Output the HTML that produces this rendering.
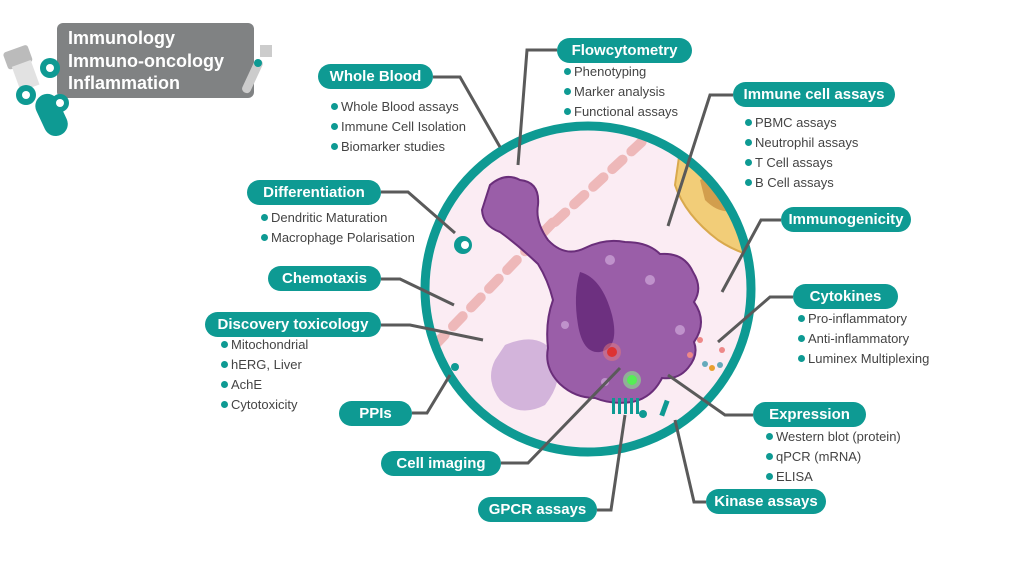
<!DOCTYPE html>
<html><head><meta charset="utf-8"><style>
html,body{margin:0;padding:0;background:#fff;}
body{width:1024px;height:584px;position:relative;overflow:hidden;font-family:"Liberation Sans",sans-serif;}
.pill{position:absolute;background:#0e9a93;color:#fff;font-weight:bold;font-size:15px;border-radius:13px;height:25px;line-height:25px;text-align:center;}
.li{position:absolute;color:#444;font-size:13px;white-space:nowrap;}
.li::before{content:"";display:inline-block;width:7px;height:7px;border-radius:50%;background:#0e9a93;margin-right:3px;vertical-align:1px;}
</style></head><body>
<svg width="1024" height="584" style="position:absolute;left:0;top:0">
<defs><clipPath id="cc"><circle cx="588" cy="289" r="160"/></clipPath></defs>
<!-- header icons -->
<g transform="rotate(-20 40 80)"><rect x="14" y="42" width="26" height="18" rx="3" fill="#bbb"/><rect x="18" y="58" width="20" height="26" fill="#e2e2e2"/></g>
<g transform="rotate(-25 55 120)"><rect x="42" y="92" width="24" height="44" rx="12" fill="#0e9a93"/></g>
<rect x="57" y="23" width="197" height="75" rx="6" fill="#808283"/>
<circle cx="50" cy="68" r="10" fill="#0e9a93"/><circle cx="50" cy="68" r="4" fill="#fff"/>
<circle cx="26" cy="95" r="10" fill="#0e9a93"/><circle cx="26" cy="95" r="4" fill="#fff"/>
<circle cx="60" cy="103" r="9" fill="#0e9a93"/><circle cx="60" cy="103" r="4" fill="#fff"/>
<g fill="#ccc"><rect x="248" y="58" width="9" height="36" rx="4" transform="rotate(25 252 76)"/><rect x="260" y="45" width="12" height="12"/></g>
<circle cx="258" cy="63" r="4" fill="#0e9a93"/>
<!-- circle -->
<circle cx="588" cy="289" r="163" fill="#fbecf3"/>
<g clip-path="url(#cc)">
<g stroke="#edb3b3" stroke-width="10" stroke-linecap="round" stroke-dasharray="14 12" opacity="0.9">
<line x1="435" y1="345" x2="560" y2="215"/>
<line x1="555" y1="222" x2="660" y2="125"/>
</g>
<path d="M680 150 Q705 130 730 165 Q770 220 770 260 Q740 255 718 240 Q685 215 675 185Z" fill="#f2cd78" stroke="#d9a94d" stroke-width="2"/>
<path d="M700 180 Q720 170 735 210 Q720 215 705 200Z" fill="#c48a3a" opacity="0.7"/>
</g>
<circle cx="588" cy="289" r="163" fill="none" stroke="#0e9a93" stroke-width="9"/>
<path d="M505 345 Q540 330 555 355 Q565 380 545 405 Q520 418 500 400 Q485 380 495 360Z" fill="#c9a6d4" opacity="0.8"/>
<!-- cell -->
<path d="M490 185 Q505 172 520 180 Q540 182 538 205 Q535 222 548 240 Q565 258 585 248 Q605 238 625 242 Q648 242 660 254 Q684 252 693 272 Q703 288 694 302 Q708 322 694 342 Q699 355 688 368 Q678 380 662 378 Q652 398 632 402 Q612 405 595 398 Q575 398 560 384 Q544 368 548 348 Q545 322 553 300 Q548 280 538 264 Q518 245 500 232 Q483 226 482 210Z" fill="#9a5ea8" stroke="#6a2e7a" stroke-width="2"/>
<path d="M580 272 Q602 278 612 315 Q620 348 600 352 Q583 354 578 325 Q573 295 580 272Z" fill="#6d3080"/>
<g fill="#c9a0d4" opacity="0.8"><circle cx="610" cy="260" r="5"/><circle cx="650" cy="280" r="5"/><circle cx="565" cy="325" r="4"/><circle cx="680" cy="330" r="5"/><circle cx="605" cy="382" r="4"/></g>
<circle cx="612" cy="352" r="9" fill="#e87a7a" opacity="0.5"/><circle cx="612" cy="352" r="5" fill="#d33"/>
<circle cx="632" cy="380" r="9" fill="#8f8" opacity="0.5"/><circle cx="632" cy="380" r="5" fill="#5e5"/>
<circle cx="463" cy="245" r="9" fill="#0e9a93"/><circle cx="465" cy="245" r="4" fill="#fff"/>
<circle cx="455" cy="367" r="4" fill="#0e9a93"/>
<g fill="#0e9a93"><rect x="612" y="398" width="3" height="16"/><rect x="618" y="398" width="3" height="16"/><rect x="624" y="398" width="3" height="16"/><rect x="630" y="398" width="3" height="16"/><rect x="636" y="398" width="3" height="16"/><circle cx="643" cy="414" r="4"/><rect x="662" y="400" width="5" height="16" transform="rotate(20 664 408)"/></g>
<g fill="#e88"><circle cx="700" cy="340" r="3"/><circle cx="722" cy="350" r="3"/><circle cx="690" cy="355" r="3"/></g>
<g fill="#6ab"><circle cx="705" cy="364" r="3"/><circle cx="720" cy="365" r="3"/></g>
<circle cx="712" cy="368" r="3" fill="#e9a030"/>
<!-- connectors -->
<g fill="none" stroke="#5a5a5a" stroke-width="3">
<polyline points="433,77 460,77 500,147"/>
<polyline points="557,50 527,50 518,165"/>
<polyline points="733,95 710,95 668,226"/>
<polyline points="381,192 408,192 455,233"/>
<polyline points="381,279 400,279 454,305"/>
<polyline points="381,325 410,325 483,340"/>
<polyline points="412,413 427,413 450,375"/>
<polyline points="501,463 528,463 620,368"/>
<polyline points="597,510 611,510 625,415"/>
<polyline points="706,502 694,502 675,420"/>
<polyline points="753,415 725,415 668,375"/>
<polyline points="793,297 770,297 718,342"/>
<polyline points="781,220 761,220 722,292"/>
</g>
</svg>
<div style="position:absolute;left:68px;top:27px;color:#fff;font-weight:bold;font-size:18px;line-height:22.5px">Immunology<br>Immuno-oncology<br>Inflammation</div>
<div class="pill" style="left:318px;top:64px;width:115px">Whole Blood</div>
<div class="pill" style="left:557px;top:38px;width:135px">Flowcytometry</div>
<div class="pill" style="left:733px;top:82px;width:162px">Immune cell assays</div>
<div class="pill" style="left:247px;top:180px;width:134px">Differentiation</div>
<div class="pill" style="left:268px;top:266px;width:113px">Chemotaxis</div>
<div class="pill" style="left:205px;top:312px;width:176px">Discovery toxicology</div>
<div class="pill" style="left:339px;top:401px;width:73px">PPIs</div>
<div class="pill" style="left:381px;top:451px;width:120px">Cell imaging</div>
<div class="pill" style="left:478px;top:497px;width:119px">GPCR assays</div>
<div class="pill" style="left:706px;top:489px;width:120px">Kinase assays</div>
<div class="pill" style="left:753px;top:402px;width:113px">Expression</div>
<div class="pill" style="left:793px;top:284px;width:105px">Cytokines</div>
<div class="pill" style="left:781px;top:207px;width:130px">Immunogenicity</div>

<div class="li" style="left:331px;top:99px">Whole Blood assays</div>
<div class="li" style="left:331px;top:119px">Immune Cell Isolation</div>
<div class="li" style="left:331px;top:139px">Biomarker studies</div>
<div class="li" style="left:564px;top:64px">Phenotyping</div>
<div class="li" style="left:564px;top:84px">Marker analysis</div>
<div class="li" style="left:564px;top:104px">Functional assays</div>
<div class="li" style="left:745px;top:115px">PBMC assays</div>
<div class="li" style="left:745px;top:135px">Neutrophil assays</div>
<div class="li" style="left:745px;top:155px">T Cell assays</div>
<div class="li" style="left:745px;top:175px">B Cell assays</div>
<div class="li" style="left:261px;top:210px">Dendritic Maturation</div>
<div class="li" style="left:261px;top:230px">Macrophage Polarisation</div>
<div class="li" style="left:221px;top:337px">Mitochondrial</div>
<div class="li" style="left:221px;top:357px">hERG, Liver</div>
<div class="li" style="left:221px;top:377px">AchE</div>
<div class="li" style="left:221px;top:397px">Cytotoxicity</div>
<div class="li" style="left:798px;top:311px">Pro-inflammatory</div>
<div class="li" style="left:798px;top:331px">Anti-inflammatory</div>
<div class="li" style="left:798px;top:351px">Luminex Multiplexing</div>
<div class="li" style="left:766px;top:429px">Western blot (protein)</div>
<div class="li" style="left:766px;top:449px">qPCR (mRNA)</div>
<div class="li" style="left:766px;top:469px">ELISA</div>
</body></html>
